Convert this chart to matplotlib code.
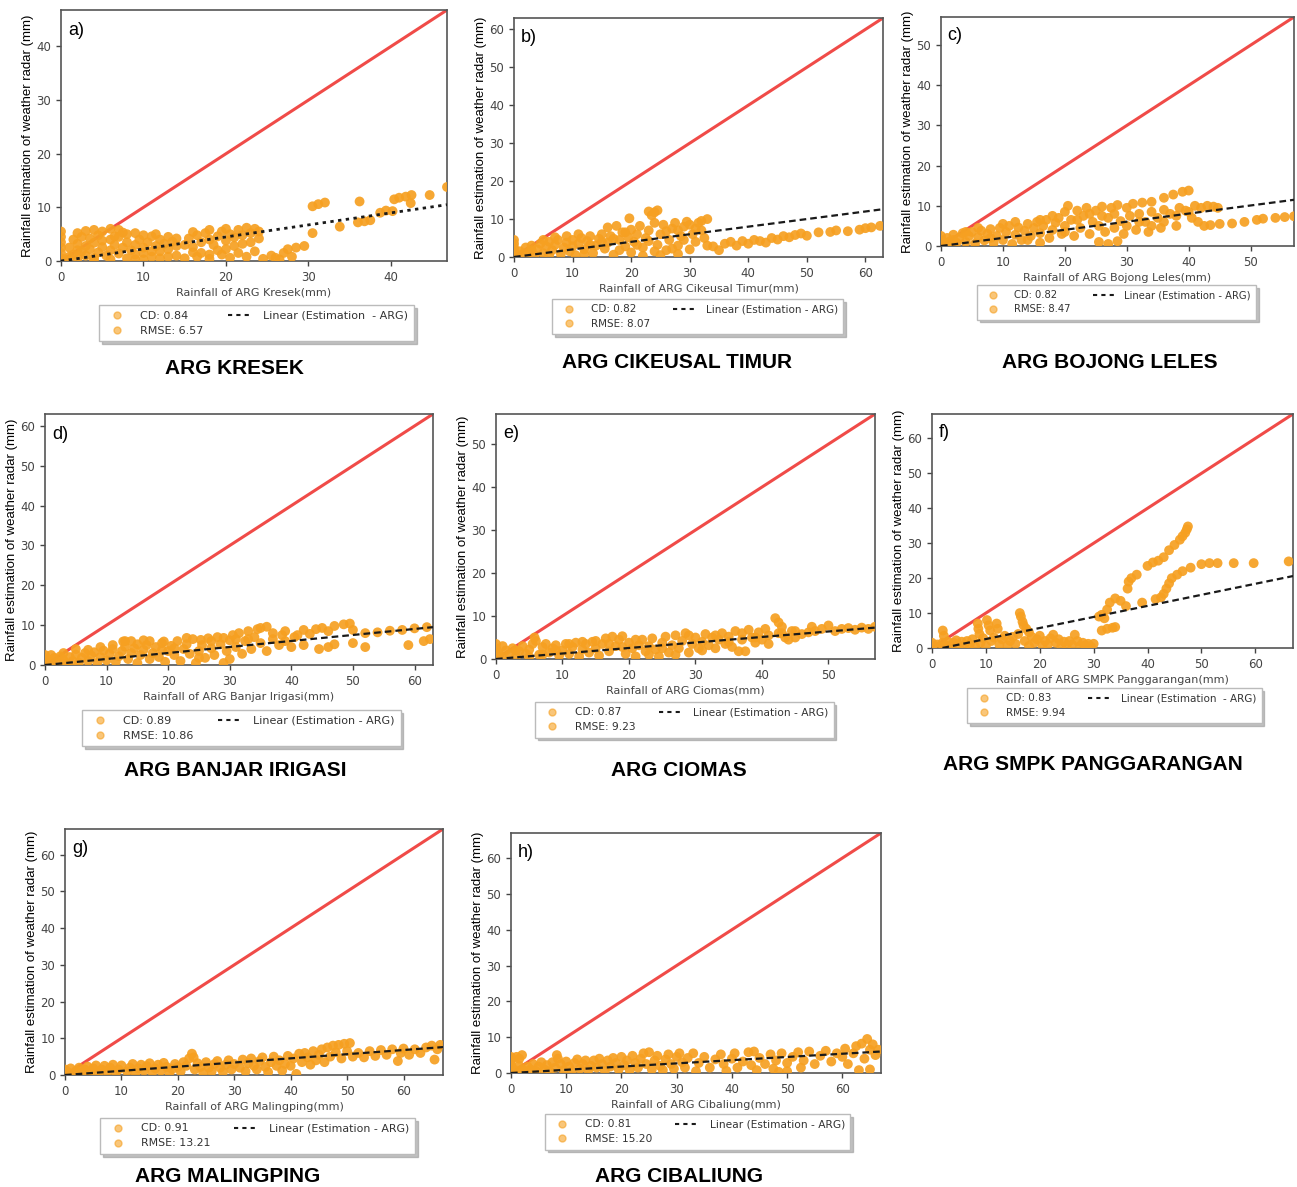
import numpy as np
import matplotlib
matplotlib.use("Agg")
import matplotlib.pyplot as plt
from matplotlib.lines import Line2D
from matplotlib.ticker import MultipleLocator

# ---- data (x = ARG rainfall, y = radar estimate, mm) ----
stations = ["ARG KRESEK", "ARG CIKEUSAL TIMUR", "ARG BOJONG LELES", "ARG BANJAR IRIGASI",
            "ARG CIOMAS", "ARG SMPK PANGGARANGAN", "ARG MALINGPING", "ARG CIBALIUNG"]
xlabels = ["Rainfall of ARG Kresek(mm)", "Rainfall of ARG Cikeusal Timur(mm)",
           "Rainfall of ARG Bojong Leles(mm)", "Rainfall of ARG Banjar Irigasi(mm)",
           "Rainfall of ARG Ciomas(mm)", "Rainfall of ARG SMPK Panggarangan(mm)",
           "Rainfall of ARG Malingping(mm)", "Rainfall of ARG Cibaliung(mm)"]
letters = ["a)", "b)", "c)", "d)", "e)", "f)", "g)", "h)"]
cd = ["0.84", "0.82", "0.82", "0.89", "0.87", "0.83", "0.91", "0.81"]
rmse = ["6.57", "8.07", "8.47", "10.86", "9.23", "9.94", "13.21", "15.20"]
lin_label = ["Linear (Estimation  - ARG)", "Linear (Estimation - ARG)", "Linear (Estimation - ARG)",
             "Linear (Estimation - ARG)", "Linear (Estimation - ARG)", "Linear (Estimation  - ARG)",
             "Linear (Estimation - ARG)", "Linear (Estimation - ARG)"]
axis_max = [46.8, 63, 57, 63, 57, 67, 67, 67]
fit_start = [0, 0, 0, 0, 0, -0.6, 0, 0]
fit_end = [10.5, 12.6, 11.5, 9.5, 7.3, 20.6, 7.6, 6.0]

pts_a = [(0,0.5),(0,1.5),(0,2.5),(0,3.5),(0,4.5),(0,5.5),(0.5,0.3),(1,0.8),(1.5,1.2),(2,0.5),(2.5,1.8),
         (3,1),(3.5,2.2),(4,0.6),(4.5,1.6),(5,2.6),(5.5,1),(6,2),(6.5,3),(7,1.4),(7.5,2.5),(8,3.5),(1,2.5),
         (2,3.2),(3,2.8),(4,3.4),(5,3.8),(6,4),(7,4.5),(3,5.6),(4,5.8),(5,5.5),(6,6),(7,5.8),(7.5,5.3),
         (8,5),(2,5.2),(6.5,4.6),(8.5,2),(9,3),(9.5,4),(10,2.5),(10.5,3.5),(11,4.6),(11.5,2.8),(12,4),
         (12.5,3.2),(13,4.5),(13.5,3.6),(14,4.2),(9,1.2),(10,1.5),(11,0.8),(12,1.8),(13,2.2),(14,2.8),
         (8,0.5),(10,0.3),(12,0.5),(14,1),(15,3),(15.5,4.2),(16,2.6),(16.5,4.8),(17,3.5),(17.5,5.2),
         (18,4),(18.5,3),(19,4.6),(19.5,5.5),(20,3.8),(20.5,5),(21,4.4),(21.5,5.8),(22,4.8),(22.5,6.2),
         (23,5.2),(23.5,6),(24,5.5),(24,4.2),(23,3.5),(21,2.8),(19,2),(17,1.5),(15,0.5),(16.5,0.8),
         (18,0.4),(19.5,1.2),(20.5,0.6),(21.5,1.5),(22.5,0.8),(23.5,1.8),(24.5,0.4),(25.5,1),(26.5,0.3),
         (27,1.5),(27.5,2.2),(28,0.8),(28.5,2.5),(29.5,2.8),(26,0.6),(30.5,10.2),(31.2,10.6),(32,10.9),
         (30.5,5.2),(33.8,6.4),(36.2,11.1),(36,7.2),(36.8,7.4),(37.5,7.6),(38.7,9),(39.4,9.4),(40.2,9.3),
         (40.4,11.5),(41,11.8),(41.8,12),(42.5,12.3),(42.4,10.8),(44.7,12.3),(46.8,13.8),
         (1.5,4),(2.5,4.5),(3.5,4.2),(4.5,4.8),(9,5.2),(10,4.8),(11.5,5),(16,5.4),(18,5.8),(20,6),
         (22,3.2),(20,2.2),(18,1.2),(16,1.6),(13,0.8),(11,1.8),(9,0.3),(6,0.3),(4,0.2),(2,2)]

pts_b = [(0,0.5),(0,1.5),(0,2.5),(0,3.5),(0,4.5),(0.5,0.5),(1,1.5),(1.5,0.8),(2,2.5),(2.5,1.2),(3,3),
         (3.5,0.5),(4,2),(4.5,3.5),(5,1),(5.5,2.8),(6,4),(6.5,1.8),(7,3.2),(7.5,4.5),(8,0.8),(8.5,2.5),
         (9,3.8),(9.5,1.5),(10,4.5),(10,2.8),(10.5,0.5),(11,3.5),(11.5,5),(12,2),(12.5,4.2),(13,5.5),
         (13.5,1),(14,3),(14.5,4.8),(15,6),(15.5,2.2),(16,3.8),(16.5,5.5),(16,7.8),(17.5,8.2),(17,0.6),
         (18,4.5),(18.5,6.5),(19,2.8),(19.5,5.2),(19.7,10.2),(20,7.2),(20,1.2),(20.5,4),(21,6),(21.5,8.2),
         (22,2.5),(22.5,5),(23,7),(23,12),(23.5,11),(24,11.8),(24.5,12.3),(24,9),(24.5,3.2),(25,6),
         (25.5,8.5),(26,1.8),(26.5,4.5),(27,7.5),(27.5,9),(28,3),(28.5,5.5),(29,8),(29.5,9.3),(30,2),
         (30.5,6),(31,4),(31.5,9),(32,9.5),(32,7),(33,10),(32.5,5),(33,3),(22,0.3),(25,0.5),(28,0.8),
         (24,1.5),(34,2.8),(35,1.8),(36,3.5),(37,4),(38,3),(39,4.2),(40,3.5),(41,4.5),(42,4.2),(43,3.8),
         (44,5),(45,4.6),(46,5.5),(47,5.2),(48,5.8),(49,6.2),(50,5.6),(52,6.5),(54,6.6),(55,7),(57,6.8),
         (59,7.2),(60,7.6),(61,7.8),(62.5,8.2),
         (3,1.8),(5,4.5),(7,5.2),(9,5.5),(11,6),(13,3.2),(15,4),(17,4.8),(19,6.5),(21,3.2),(23,4.2),
         (26,6.8),(28,7),(30,8.5),(31,7.5),(29,4.5),(27,2.2),(18,1.8),(12,0.8),(6,0.5)]

pts_c = [(0,0.5),(0,1.5),(0,2.5),(0.5,1),(1,0.5),(1,2),(1.5,1.2),(2,2.8),(2.5,0.8),(3,2),(3.5,3.2),
         (4,1),(4.5,2.5),(5,3.5),(5.5,0.6),(6,2.2),(6.5,3.8),(7,1.4),(7.5,3),(8,4.2),(8.5,0.8),(9,2.5),
         (9.5,4.5),(10,1.5),(10.5,3.5),(11,5),(11.5,0.5),(12,2.8),(12.5,4.6),(13,1.5),(13.5,3.8),(14,5.5),
         (14.5,2.5),(15,4.5),(15.5,6),(16,0.8),(16,3.2),(16.5,5),(17,6.5),(17.5,2),(18,4),(18.5,5.8),
         (19,7),(19.5,3),(20,5),(20,8.5),(20.5,10),(21,6.5),(21.5,2.5),(22,8.8),(22.5,4.5),(23,7.5),
         (23.5,9.5),(24,3),(24.5,6),(25,8.8),(25.5,5),(26,9.8),(26.5,3.5),(27,7),(27.5,9.5),(28,4.5),
         (28.5,10.2),(29,6.2),(29.5,3),(25.5,1),(27,0.5),(28.5,1.2),(30,5),(31,10.5),(30.5,7.5),(31.5,4),
         (32,8),(32.5,10.8),(33,6),(33.5,3.5),(34,11),(34,8.5),(35,7),(35.5,4.5),(36,12),(36,9),(37,8),
         (37.5,12.8),(38,5),(38.5,9.5),(39,13.5),(40,13.8),(39.5,8.8),(40.5,7),(41,10),(42,9.5),(43,10),
         (44,9.8),(44.7,9.5),(41.5,6),(42.5,5),(43.5,5.2),(45,5.5),(47,5.6),(49,6),(51,6.5),(52,6.8),
         (54,7),(55.5,7.2),(57,7.4),
         (2,1.5),(4,3.5),(6,4.5),(8,2),(10,5.5),(12,6),(14,1.5),(16,6.5),(18,7.5),(20,3.5),(22,6.5),
         (24,8),(26,7.5),(28,8),(30,9.5),(32,6),(34,5),(36,6),(38,7.5),(40,8.5)]

pts_d = [(0,0.5),(0,1.5),(0,2.5),(0.5,1),(1,0.3),(1.5,1.8),(2,0.8),(2.5,2.2),(3,1.2),(3.5,0.4),(4,2),
         (4.5,1),(5,2.6),(5.5,0.5),(6,1.8),(6.5,3),(7,1),(7.5,2.4),(8,3.2),(8.5,0.6),(9,2),(9.5,3.6),
         (10,1.2),(10.5,2.8),(11,4),(11.5,0.8),(12,2.2),(12.5,3.5),(12.7,5.9),(13,4.6),(13.5,1.5),(14,3),
         (14,6),(14.5,4.2),(15,0.5),(15.5,2.5),(16,3.8),(16,6.2),(16.5,5),(17,1.5),(17.5,3),(18,4.5),
         (18.5,2),(19,5.5),(19.3,5.9),(19.5,0.8),(20,3.5),(20.5,4.8),(21,2.5),(21.5,6),(22,1),(22.5,4),
         (23,5.2),(23.5,2.8),(24,6.5),(24.5,0.5),(25,3.5),(25.3,6.3),(25.5,5),(26,1.8),(26.5,6.7),(27,4.2),
         (27.5,2.5),(28,7),(28.5,5.2),(29,0.5),(29.5,3.5),(30,6.2),(30,1.5),(30.5,7.5),(31,4.5),(31.5,8),
         (32,2.8),(32.5,6),(33,8.5),(33.5,4),(34,7),(34.5,9),(35,5.5),(35,9.3),(36,9.6),(36,3.5),(37,6.5),
         (38,5),(38.5,7.5),(39,6),(40,4.5),(40.5,7),(42,8.8),(42,5),(44,9),(44.5,4),(45,9.3),(46,4.5),
         (47,9.8),(47,5.2),(48.5,10.2),(49.5,10.4),(50,5.5),(52,8),(52,4.5),(54,8.2),(56,8.6),(58,8.8),
         (59,5),(60,9.2),(61.5,6),(62,9.5),(62.5,6.5),
         (1,2.5),(3,3),(5,4),(7,3.8),(9,4.5),(11,5),(13,6),(15,5.2),(17,6),(19,3.8),(21,4.2),(23,6.8),
         (25,1.8),(27,6),(29,6.8),(31,6.5),(33,6.5),(37,8),(39,8.5),(41,7.5),(43,7.8),(46,8.5),(50,8.8)]

pts_e = [(0,0.5),(0,1.5),(0,2.5),(0,3.5),(0.5,1),(1,0.5),(1.5,2),(2,1),(2.5,2.5),(3,0.5),(3.5,1.8),
         (4,3),(4.5,1.2),(5,2.2),(5.5,3.5),(5.8,5),(6,4.2),(6.5,1),(7,2.8),(7.5,3.5),(8,1.5),(8.5,2.5),
         (9,3.2),(9.5,0.8),(10,2),(10.5,3.5),(11,1.2),(11.5,2.8),(12,3.8),(12.5,0.6),(13,2.2),(13.5,3.5),
         (14,1.5),(14.5,4),(15,2.5),(15.5,0.8),(16,3.5),(16.5,4.8),(17,1.8),(17.5,5.2),(18,3),(18.5,4.5),
         (19,5.3),(19.5,1.2),(20,3.8),(20.5,2.5),(21,0.6),(21.5,3.2),(22,4.5),(22.5,1.8),(23,3),(23.5,4.8),
         (24,2.2),(24.5,0.6),(25,3.8),(25.5,5.2),(26,1.5),(26.5,3.2),(27,5.5),(27.5,2.5),(28,4.2),(28.5,6),
         (29,1.5),(29.5,3.5),(30,5),(30.5,2.5),(31,4),(31.5,5.8),(32,3.2),(32.5,5),(33,2.5),(33.5,4.5),
         (34,6),(34.5,3.5),(35,5.2),(35.5,2.8),(36,6.5),(36.5,1.8),(37,4.5),(37.5,1.8),(38,6.8),(38.5,5),
         (39,3.8),(39.5,6.2),(40,4.5),(40.5,7),(41,5.5),(42,9.5),(42.5,8.5),(43,7.5),(42.5,6),(43.5,5),
         (44,4.5),(45,5),(44.5,6.5),(46,5.8),(47.5,7.5),(48,6.5),(49,7),(50,7.8),(51,6.5),(52,7),(53,7.2),
         (54,6.8),(55,7.3),(56,7),(57,7.5),
         (1,3),(3,2),(5,0.5),(7,1),(9,2),(11,3.5),(13,4),(15,4.2),(17,3.5),(19,2.8),(21,4.5),(23,1),
         (25,2.5),(27,1),(29,5.5),(31,2),(33,5.5),(35,4),(37,6),(39,5),(41,3.5),(43,6),(45,6.5),(47,6.2)]

pts_f = [(0,0.5),(0,1.5),(0.5,0.3),(1,1),(1.5,0.5),(2,1.5),(2,5),(2.2,3.5),(2.5,0.8),(3,1.8),(3.5,0.5),
         (4,1.5),(4.5,2.2),(5,0.8),(5.5,1.8),(6,0.5),(6.5,2),(7,1),(7.5,2.5),(8,0.5),(8.5,7),(8.6,5.5),
         (8.8,4),(9,1.5),(9.5,2.8),(10,0.6),(10.2,8),(10.5,6.5),(10.8,5),(11,2),(11.5,3),(12,7),(12.2,5.5),
         (12.5,1),(13,2.5),(13.5,3.5),(14,0.8),(14.5,2),(15,3.2),(15.5,1.2),(16,4),(16.3,10),(16.5,9),
         (16.8,7.5),(17,6.5),(17.2,2),(17.5,5.5),(18,4.5),(18,0.6),(18.5,3.2),(19,1.5),(19.5,2.5),(20,3.5),
         (20.5,0.8),(21,2),(21.5,1),(22,2.8),(22.5,3.8),(23,1.5),(23.5,2.5),(24,0.5),(24.5,1.8),(25,0.8),
         (25.5,2),(26,1),(26.5,3.8),(27,2),(27.5,0.6),(28,1.5),(28.5,0.8),(29,1.2),(29.5,0.4),(30,1.2),
         (31,9),(31.5,9.5),(32,8.5),(32.5,11),(33,13),(34,14.2),(35,13.5),(36.3,17),(36.5,19),(37,20),
         (38,21),(40,23.5),(41,24.5),(42,25),(43,26),(44,28),(45,29.5),(46,31),(46.5,32),(47,33),
         (47.3,34),(47.5,34.8),(31.5,5),(32.5,5.5),(33.5,5.8),(34,6),(36,12),(39,13),(41.5,14),(42.5,14.5),
         (43,15.5),(43.5,17),(44,18.5),(44.5,20),(45.5,21),(46.5,22),(48,23),(50,24),(51.5,24.3),
         (53,24.3),(56,24.3),(59.7,24.3),(66.2,24.8)]

pts_g = [(0,0.5),(0,1.5),(0.5,0.8),(1,1.8),(1.5,0.4),(2,1.2),(2.5,2),(3,0.6),(3.5,1.5),(4,2.3),(4.5,0.8),
         (5,1.8),(5.5,2.6),(6,0.5),(6.5,1.5),(7,2.5),(7.5,1),(8,2),(8.5,2.8),(9,0.6),(9.5,1.5),(10,2.6),
         (11,1),(11.5,2),(12,3),(12.5,0.6),(13,1.8),(13.5,2.8),(14,1.2),(14.5,2.4),(15,3.2),(15.5,0.8),
         (16,1.8),(16.5,2.8),(17,1.2),(17.5,3.3),(18,2.2),(18.5,0.6),(19,1.6),(19.5,3),(20,2.2),(20.5,1),
         (21,3.5),(21.5,2.5),(22,4.5),(22.5,5.8),(22.8,4.8),(23,1.5),(23.5,3.2),(24,2.2),(24.5,0.6),
         (25,3.5),(25.5,2),(26,1),(26.5,3),(27,3.8),(27.5,2),(28,0.8),(28.5,2.8),(29,4),(29.5,1.5),(30,3),
         (31,2),(31.5,4.2),(32,1),(32.5,3.2),(33,4.5),(33.5,2.5),(34,1.5),(34.5,3.8),(35,4.8),(35.5,2.2),
         (36,0.8),(36.5,3.5),(37,5),(37.5,2.5),(38,4),(38.5,1.2),(39,3),(39.5,5.2),(40,2.5),(41,0.3),
         (40.5,4.5),(41.5,5.8),(42,3.5),(42.5,6),(43,4.8),(43.5,2.8),(44,6.5),(44.5,4),(45,5.5),(45.5,7),
         (46,3.5),(46.5,7.5),(47,5),(47.5,8),(48,6.2),(48.5,8.2),(49,4.5),(49.5,8.5),(50,6.5),(50.5,8.7),
         (51,5),(52,6),(53,4.8),(54,6.5),(55,5.2),(56,6.8),(57,5.5),(58,7),(59,3.8),(59.5,6),(60,7.2),
         (61,5.5),(62,7),(63,6),(64,7.5),(65,8),(65.5,4.2),(66,7),(66.5,8.2)]

pts_h = [(0,0.5),(0,1.5),(0,2.5),(0,3.5),(0,4.5),(1,4.5),(2,5),(1.5,4),(0.5,1),(1,0.3),(1.5,2),(2,1),
         (2.5,0.5),(3,1.8),(3.5,1),(4,2.5),(4.5,0.6),(5,1.8),(5.5,3),(6,1),(6.5,2.2),(7,0.5),(7.5,3),
         (8,1.5),(8.3,5),(8.5,4),(9,2.5),(9.5,0.8),(10,3.2),(10.5,1.8),(11,0.5),(11.5,2.8),(12,3.8),
         (12.5,1.2),(13,2.5),(13.5,3.5),(14,0.8),(14.5,2),(15,3.5),(15.5,1.5),(16,4),(16.5,2.5),(17,0.6),
         (17.5,3.5),(18,1.8),(18.5,4.2),(19,2.8),(19.5,1),(20,4.5),(20.5,2.2),(21,3.5),(21.5,0.8),(22,4.8),
         (22.5,2.8),(23,1.5),(23.5,4),(24,5.5),(24.5,2.5),(25,5.8),(25.5,1),(26,3.5),(26.5,4.8),(27,2),
         (27.5,0.8),(28,3.8),(28.5,5.2),(29,2.5),(29.5,1.2),(30,4.5),(30.5,5.5),(31,3),(31.5,1.5),(32,4.2),
         (33,5.5),(33.5,0.5),(34,2.8),(35,4.5),(36,1.5),(37,3.8),(38,5.2),(38.5,2.5),(39,0.6),(40,4),
         (40.5,5.5),(41,1.5),(42,3.2),(43,5.8),(43.5,2.2),(44,6),(44.5,0.8),(45,4.2),(46,2.5),(47,5.2),
         (47.5,1.2),(48,3.5),(48.5,0.3),(49,5.5),(50,0.5),(50,2.8),(51,4.5),(52,5.8),(52.5,1.5),(53,3.5),
         (54,6),(55,2.5),(56,4.8),(57,6.2),(58,3.2),(59,5.5),(60,4.5),(60.5,6.8),(61,2.5),(62,5.5),
         (62.5,7.5),(63,0.8),(63.5,8.2),(64,4),(64.5,9.5),(65,6.5),(65,1),(65.5,8),(66,5),(66.5,6.5)]

all_pts = [pts_a, pts_b, pts_c, pts_d, pts_e, pts_f, pts_g, pts_h]

# ---- layout (pixel boxes on a 1297 x 1187 canvas) ----
W, H = 1297, 1187
ax_boxes = [(61, 447, 10, 261), (514, 883, 18, 257), (941, 1294, 17, 246),
            (45, 433, 414, 665), (496, 875, 414, 659), (932, 1293, 414, 648),
            (65, 443, 829, 1075), (511, 881, 833, 1073)]
leg_pos = [(99, 305), (552, 299), (977, 285), (82, 710), (535, 702), (967, 688),
           (100, 1118), (545, 1114)]
leg_fs = [8, 7.5, 7.2, 8, 7.7, 7.5, 7.9, 7.7]
title_pos = [(234, 369), (677, 362), (1110, 362), (235, 770), (679, 770), (1093, 765),
             (228, 1176), (679, 1176)]

ORANGE = "#f6a021"
RED = "#f04b48"
GREY = "#444444"

fig = plt.figure(figsize=(W / 100, H / 100), dpi=100)

for i in range(8):
    l, r, t, b = ax_boxes[i]
    ax = fig.add_axes([l / W, 1 - b / H, (r - l) / W, (b - t) / H])
    lim = axis_max[i]
    xy = np.array(all_pts[i])

    ax.plot([0, lim], [0, lim], color=RED, lw=2.2, zorder=2)
    ax.scatter(xy[:, 0], xy[:, 1], s=50, color=ORANGE, alpha=0.92, edgecolors="none", zorder=3)
    if i == 0:
        ls = (0, (1.2, 1.6))
        lw = 2.0
    else:
        ls = (0, (3, 1.8))
        lw = 1.6
    ax.plot([0, lim], [fit_start[i], fit_end[i]], color="#1a1a1a", lw=lw, ls=ls, zorder=4)

    ax.set_xlim(0, lim)
    ax.set_ylim(0, lim)
    ax.xaxis.set_major_locator(MultipleLocator(10))
    ax.yaxis.set_major_locator(MultipleLocator(10))
    ax.tick_params(labelsize=8.5, labelcolor=GREY, color=GREY, length=3.5, width=1)
    for sp in ax.spines.values():
        sp.set_color("#555555")
        sp.set_linewidth(1.2)

    ax.set_xlabel(xlabels[i], fontsize=8, color=GREY, labelpad=3)
    ax.set_ylabel("Rainfall estimation of weather radar (mm)", fontsize=9.5,
                  family="Liberation Sans", color="black", labelpad=2)
    ax.text(0.018, 0.92, letters[i], transform=ax.transAxes, fontsize=13,
            family="Liberation Sans", va="center", ha="left")

    handles = [Line2D([], [], ls="none", marker="o", ms=5, color=ORANGE, alpha=0.6),
               Line2D([], [], ls="none", marker="o", ms=5, color=ORANGE, alpha=0.6),
               Line2D([], [], color="#1a1a1a", lw=1.5, ls=(0, (2, 2)))]
    labels = ["CD: " + cd[i], "RMSE: " + rmse[i], lin_label[i]]
    lx, ly = leg_pos[i]
    leg = ax.legend(handles, labels, ncol=2, loc="upper left",
                    bbox_to_anchor=(lx / W, 1 - ly / H), bbox_transform=fig.transFigure,
                    fontsize=leg_fs[i], frameon=True, shadow={"color": "#999999", "alpha": 0.6},
                    fancybox=False, columnspacing=2.2, handlelength=2.2, handletextpad=1.0,
                    labelspacing=0.45, borderpad=0.5, borderaxespad=0)
    leg.get_frame().set_edgecolor("#bbbbbb")
    leg.get_frame().set_linewidth(1.0)
    for txt in leg.get_texts():
        txt.set_color("#333333")

    tx, ty = title_pos[i]
    fig.text(tx / W, 1 - ty / H, stations[i], fontsize=15, fontweight="bold",
             family="Liberation Sans", ha="center", va="center")

fig.savefig("out.png", dpi=100)
